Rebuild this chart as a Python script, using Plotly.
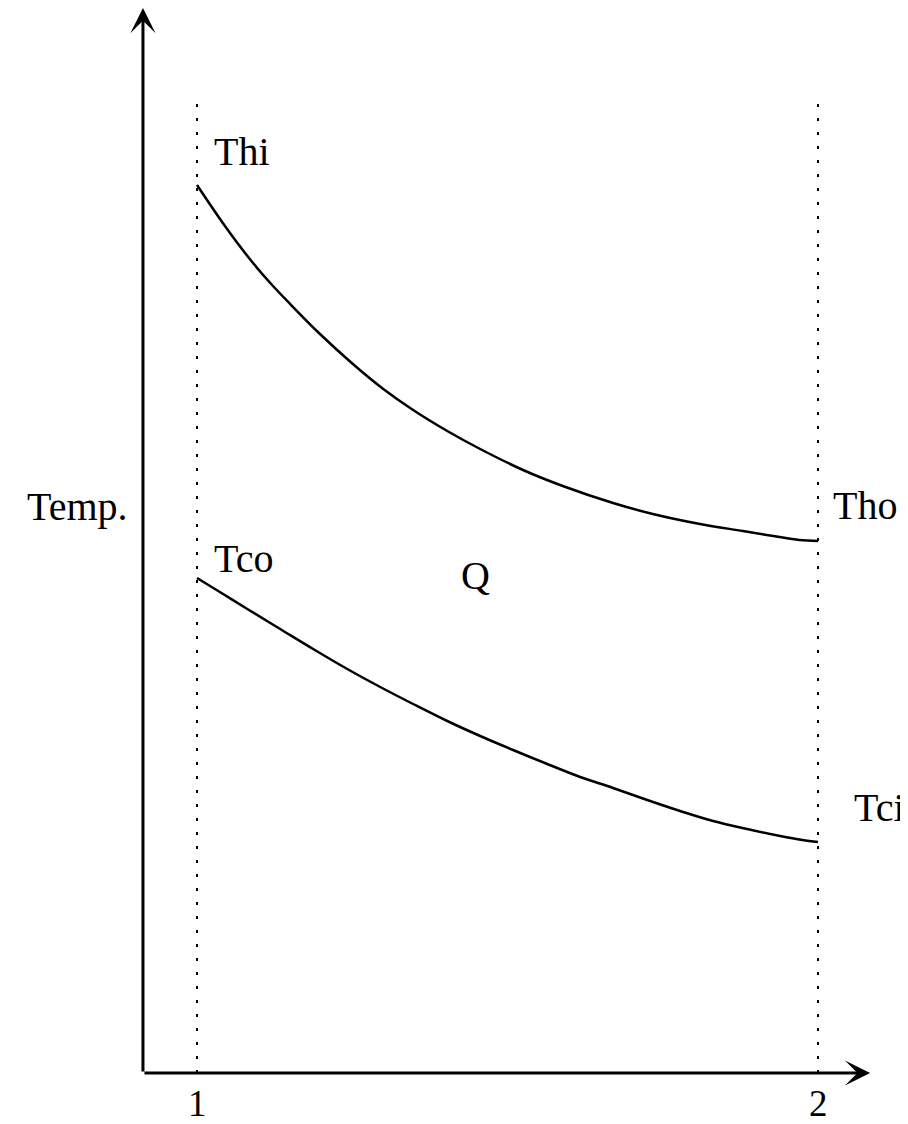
import plotly.graph_objects as go

# station positions along the exchanger
x_ticks = [1, 2]
tick_labels = ["1", "2"]

# hot stream: Thi at station 1 falling to Tho at station 2
hot_x = [1.0, 1.045, 1.085, 1.118, 1.150, 1.198, 1.251, 1.300, 1.348, 1.403,
         1.456, 1.525, 1.589, 1.670, 1.734, 1.810, 1.879, 1.928, 1.97, 2.0]
hot_y = [88.8, 84.7, 81.4, 79.0, 76.9, 73.9, 70.9, 68.4, 66.3, 64.2,
         62.4, 60.3, 58.7, 57.0, 55.9, 54.9, 54.2, 53.7, 53.3, 53.2]

# cold stream: Tco at station 1 falling to Tci at station 2
cold_x = [1.0, 1.042, 1.081, 1.134, 1.187, 1.242, 1.295, 1.348, 1.403, 1.456, 1.509,
          1.564, 1.617, 1.670, 1.725, 1.778, 1.831, 1.886, 1.939, 1.975, 2.0]
cold_y = [49.5, 47.9, 46.4, 44.4, 42.4, 40.4, 38.6, 36.9, 35.2, 33.7, 32.3,
          30.9, 29.6, 28.5, 27.3, 26.2, 25.2, 24.4, 23.7, 23.3, 23.1]

# dotted guides at the two stations
guide_top = [97.8, 97.3]

# axis extents
x_origin, x_end = 0.913, 2.084
y_origin, y_end = 0, 106.5

# labels: text, x, y, anchor
labels = [
    ("Thi", 1.0725, 92.2, "center"),
    ("Tho", 2.0757, 56.8, "center"),
    ("Tco", 1.0741, 51.5, "center"),
    ("Tci", 2.0548, 26.6, "left"),
    ("Q", 1.4477, 49.8, "center"),
    ("Temp.", 0.7230, 56.7, "left"),
]

font = dict(family="Liberation Serif, Times New Roman, serif", size=40, color="black")
tick_font = dict(family="Liberation Serif, Times New Roman, serif", size=37, color="black")

fig = go.Figure()

for xv, top in zip(x_ticks, guide_top):
    fig.add_trace(go.Scatter(x=[xv, xv], y=[y_origin, top], mode="lines",
                             line=dict(color="black", width=2, dash="3px,11px"),
                             showlegend=False, hoverinfo="skip"))

for xs, ys in [(hot_x, hot_y), (cold_x, cold_y)]:
    fig.add_trace(go.Scatter(x=xs, y=ys, mode="lines",
                             line=dict(color="black", width=2.5, shape="spline", smoothing=1),
                             showlegend=False))

# axes drawn as arrows
for tip_x, tip_y in [(x_end, y_origin), (x_origin, y_end)]:
    fig.add_annotation(x=tip_x, y=tip_y, ax=x_origin, ay=y_origin,
                       xref="x", yref="y", axref="x", ayref="y",
                       text="", showarrow=True, arrowhead=3, arrowsize=1.4,
                       arrowwidth=3, arrowcolor="black", standoff=0, startstandoff=0)

for txt, xv, yv, anchor in labels:
    fig.add_annotation(x=xv, y=yv, xref="x", yref="y", text=txt, showarrow=False,
                       xanchor=anchor, yanchor="middle", font=font)

for xv, txt in zip(x_ticks, tick_labels):
    fig.add_annotation(x=xv, y=-3.0, xref="x", yref="y", text=txt, showarrow=False,
                       xanchor="center", yanchor="middle", font=tick_font)

# page body adds an 8px margin, so the figure is 8px smaller each way
fig.update_layout(width=900, height=1116, margin=dict(l=0, r=0, t=0, b=0),
                  paper_bgcolor="white", plot_bgcolor="white")
fig.update_xaxes(range=[0.69565, 2.14493], visible=False, showgrid=False, zeroline=False)
fig.update_yaxes(range=[-5.1, 106.5], visible=False, showgrid=False, zeroline=False)

fig.write_html("out.html")
